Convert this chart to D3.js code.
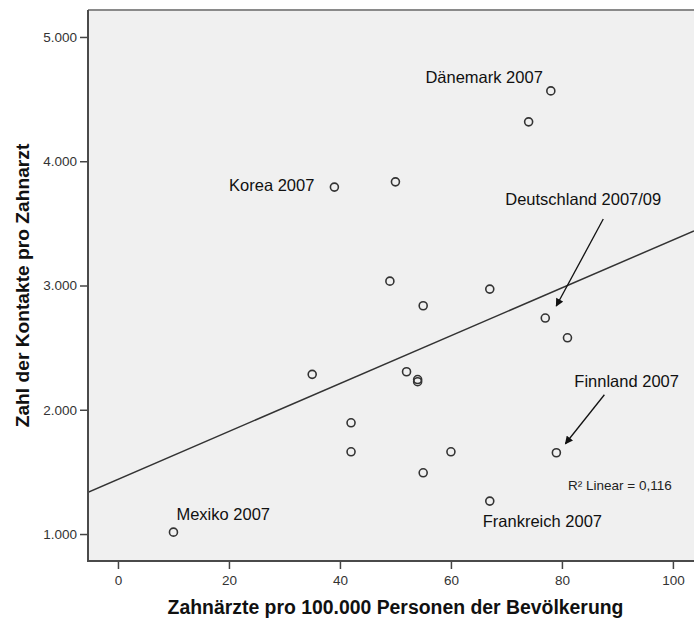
<!DOCTYPE html>
<html>
<head>
<meta charset="utf-8">
<script src="https://cdn.jsdelivr.net/npm/d3@7"></script>
<style>
  html, body { margin: 0; padding: 0; background: #fff; }
  #chart { width: 694px; height: 621px; }
</style>
</head>
<body>
<div id="chart"></div>
<script>
// Zahnärzte pro 100.000 Einwohner (x) vs. Kontakte pro Zahnarzt (y)
const dentists = [10, 39, 78, 74, 50, 49, 55, 67, 77, 81, 52, 54, 54, 42, 42, 60, 55, 67, 79, 35];
const contacts = [1015, 3792, 4566, 4317, 3834, 3035, 2837, 2971, 2738, 2579, 2306, 2243, 2226, 1895, 1662, 1662, 1493, 1265, 1654, 2285];
const names = ['Mexiko 2007', 'Korea 2007', 'Dänemark 2007', '', '', '', '', '', 'Deutschland 2007/09', '',
  '', '', '', '', '', '', '', 'Frankreich 2007', 'Finnland 2007', ''];
const xTicks = [0, 20, 40, 60, 80, 100];
const yTicks = [1000, 2000, 3000, 4000, 5000];
const xTitle = 'Zahnärzte pro 100.000 Personen der Bevölkerung';
const yTitle = 'Zahl der Kontakte pro Zahnarzt';

const W = 694, H = 621;
const plot = { left: 88, right: 694, top: 10, bottom: 561 };
const font = "'Liberation Sans', Arial, sans-serif";

// label placement relative to the point (pixels)
const labelPos = {
  'Mexiko 2007': { dx: 3, dy: -12, anchor: 'start' },
  'Korea 2007': { dx: -20, dy: 4, anchor: 'end' },
  'Dänemark 2007': { dx: -8, dy: -8, anchor: 'end' },
  'Deutschland 2007/09': { dx: -40, dy: -113, anchor: 'start', arrow: [58, -99, 11, -12] },
  'Finnland 2007': { dx: 18, dy: -66, anchor: 'start', arrow: [48, -58, 9, -9] },
  'Frankreich 2007': { dx: -7, dy: 26, anchor: 'start' }
};

const de = d3.formatLocale({ decimal: ',', thousands: '.', grouping: [3], currency: ['', ' €'] });

const data = dentists.map((d, i) => ({ x: d, y: contacts[i], name: names[i] }));

const svg = d3.select('#chart')
  .append('svg')
  .attr('width', W)
  .attr('height', H)
  .attr('font-family', font);

const x = d3.scaleLinear().domain([-5.4, 103.8]).range([plot.left, plot.right]);
const y = d3.scaleLinear().domain([783, 5217]).range([plot.bottom, plot.top]);

// plot background
svg.append('rect')
  .attr('x', plot.left)
  .attr('y', plot.top)
  .attr('width', plot.right - plot.left)
  .attr('height', plot.bottom - plot.top)
  .attr('fill', '#f0f0f0');

svg.append('defs')
  .call(defs => {
    defs.append('clipPath').attr('id', 'clip')
      .append('rect')
      .attr('x', plot.left)
      .attr('y', plot.top)
      .attr('width', plot.right - plot.left)
      .attr('height', plot.bottom - plot.top);
    defs.append('marker')
      .attr('id', 'arrow')
      .attr('viewBox', '0 0 10 10')
      .attr('refX', 9)
      .attr('refY', 5)
      .attr('markerWidth', 9)
      .attr('markerHeight', 8)
      .attr('markerUnits', 'userSpaceOnUse')
      .attr('orient', 'auto')
      .append('path')
      .attr('d', 'M0,0L10,5L0,10Z')
      .attr('fill', '#111');
  });

// linear fit (least squares)
const mx = d3.mean(dentists), my = d3.mean(contacts);
const sxy = d3.sum(data, d => (d.x - mx) * (d.y - my));
const sxx = d3.sum(data, d => (d.x - mx) ** 2);
const syy = d3.sum(data, d => (d.y - my) ** 2);
const slope = sxy / sxx;
const intercept = my - slope * mx;
const r2 = (sxy * sxy) / (sxx * syy);

const [x0, x1] = x.domain();
svg.append('line')
  .attr('clip-path', 'url(#clip)')
  .attr('x1', x(x0))
  .attr('y1', y(intercept + slope * x0))
  .attr('x2', x(x1))
  .attr('y2', y(intercept + slope * x1))
  .attr('stroke', '#333')
  .attr('stroke-width', 1.5);

// points
svg.append('g')
  .selectAll('circle')
  .data(data)
  .join('circle')
  .attr('cx', d => x(d.x))
  .attr('cy', d => y(d.y))
  .attr('r', 4)
  .attr('fill', 'none')
  .attr('stroke', '#333')
  .attr('stroke-width', 1.6);

// country labels + arrows
const labelled = data.filter(d => d.name);
const lab = svg.append('g').attr('font-size', '16.5px').attr('fill', '#111');
labelled.forEach(d => {
  const p = labelPos[d.name];
  const px = x(d.x), py = y(d.y);
  lab.append('text')
    .attr('x', px + p.dx)
    .attr('y', py + p.dy)
    .attr('text-anchor', p.anchor)
    .text(d.name);
  if (p.arrow) {
    lab.append('line')
      .attr('x1', px + p.arrow[0])
      .attr('y1', py + p.arrow[1])
      .attr('x2', px + p.arrow[2])
      .attr('y2', py + p.arrow[3])
      .attr('stroke', '#111')
      .attr('stroke-width', 1.3)
      .attr('marker-end', 'url(#arrow)');
  }
});

// R² label
svg.append('text')
  .attr('x', plot.right - 126)
  .attr('y', plot.bottom - 71)
  .attr('font-size', '13.5px')
  .attr('fill', '#222')
  .text('R² Linear = ' + de.format('.3f')(r2));

// axes
const yAxis = svg.append('g')
  .attr('transform', `translate(${plot.left},0)`)
  .call(d3.axisLeft(y).tickValues(yTicks).tickSize(8).tickPadding(3).tickFormat(de.format(',.0f')));
const xAxis = svg.append('g')
  .attr('transform', `translate(0,${plot.bottom})`)
  .call(d3.axisBottom(x).tickValues(xTicks).tickSize(8).tickPadding(6));

[xAxis, yAxis].forEach(g => {
  g.select('.domain').remove();
  g.selectAll('.tick line').attr('stroke', '#444').attr('stroke-width', 1.5);
  g.selectAll('.tick text').attr('fill', '#333').attr('font-size', '13.5px').attr('font-family', font);
});

// frame
svg.append('line')
  .attr('x1', plot.left).attr('x2', plot.right)
  .attr('y1', plot.top).attr('y2', plot.top)
  .attr('stroke', '#8a8a8a').attr('stroke-width', 2);
svg.append('path')
  .attr('d', `M${plot.left},${plot.top}V${plot.bottom}H${plot.right}`)
  .attr('fill', 'none')
  .attr('stroke', '#4a4a4a')
  .attr('stroke-width', 2);

// titles
svg.append('text')
  .attr('x', 395.5)
  .attr('y', 614)
  .attr('text-anchor', 'middle')
  .attr('font-size', '19.4px')
  .attr('font-weight', 'bold')
  .attr('fill', '#111')
  .text(xTitle);

svg.append('text')
  .attr('transform', `translate(29,${(plot.top + plot.bottom) / 2}) rotate(-90)`)
  .attr('text-anchor', 'middle')
  .attr('font-size', '19.2px')
  .attr('font-weight', 'bold')
  .attr('fill', '#111')
  .text(yTitle);
</script>
</body>
</html>
